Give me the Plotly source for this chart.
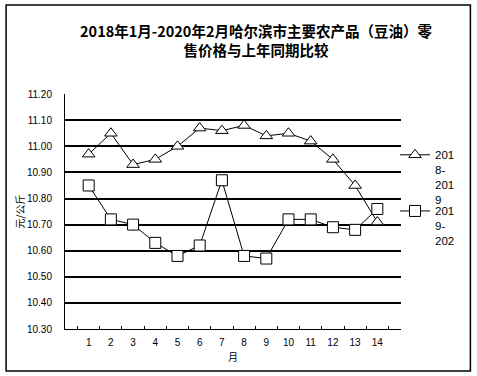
import plotly.graph_objects as go

months = [str(i) for i in range(1, 15)]
series1_name = "201<br>8-<br>201<br>9"
series1 = [10.97, 11.05, 10.93, 10.95, 11.00, 11.07, 11.06, 11.08, 11.04, 11.05, 11.02, 10.95, 10.85, 10.71]
series2_name = "201<br>9-<br>202"
series2 = [10.85, 10.72, 10.70, 10.63, 10.58, 10.62, 10.87, 10.58, 10.57, 10.72, 10.72, 10.69, 10.68, 10.76]
y_ticks = [10.30, 10.40, 10.50, 10.60, 10.70, 10.80, 10.90, 11.00, 11.10, 11.20]
title_text = "<b>2018年1月-2020年2月哈尔滨市主要农产品（豆油）零<br>售价格与上年同期比较</b>"
x_title = "月"
y_title = "元/公斤"

W, H = 477, 376
L, R, T, B = 64.5, 76, 94.3, 47.3
pw, ph = W - L - R, H - T - B

def px_x(x):
    return (x - L) / pw

def px_y(y):
    return (H - B - y) / ph

fig = go.Figure()
fig.add_trace(go.Scatter(
    x=months, y=series1, name=series1_name, mode="lines+markers", legend="legend",
    line=dict(color="black", width=1),
    marker=dict(symbol="triangle-up", size=11, color="white", line=dict(color="black", width=1)),
))
fig.add_trace(go.Scatter(
    x=months, y=series2, name=series2_name, mode="lines+markers", legend="legend2",
    line=dict(color="black", width=1),
    marker=dict(symbol="square", size=11, color="white", line=dict(color="black", width=1)),
))

legend_style = dict(xanchor="left", yanchor="top", valign="top", bgcolor="rgba(0,0,0,0)",
                    font=dict(family="Liberation Sans", size=11.5, color="black"))

fig.update_layout(
    width=W, height=H,
    margin=dict(l=L, r=R, t=T, b=B, autoexpand=False),
    paper_bgcolor="white", plot_bgcolor="white",
    title=dict(text=title_text, x=256 / W, xanchor="center", y=1 - 37 / H, yanchor="top",
               font=dict(family="Noto Sans CJK SC", size=14.5, color="black")),
    font=dict(family="Liberation Sans", color="black"),
    showlegend=True,
    legend=dict(x=px_x(395), y=px_y(141), **legend_style),
    legend2=dict(x=px_x(395), y=px_y(197), **legend_style),
    xaxis=dict(type="category", tickson="boundaries", ticks="inside", ticklen=3,
               tickcolor="black", showline=True, linecolor="black", linewidth=1,
               showgrid=False, zeroline=False, ticklabelstandoff=4,
               tickfont=dict(family="Liberation Sans", size=10, color="black"),
               title=dict(text=x_title, font=dict(family="Noto Sans CJK SC", size=10, color="black"),
                          standoff=6)),
    yaxis=dict(range=[10.30, 11.2005], tickvals=y_ticks, tickformat=".2f",
               showline=True, linecolor="black", linewidth=1, mirror=False,
               showgrid=True, gridcolor="black", gridwidth=1.5, zeroline=False,
               ticks="", ticklabelstandoff=10,
               tickfont=dict(family="Liberation Sans", size=10, color="black"),
               title=dict(text=y_title, font=dict(family="Noto Sans CJK SC", size=10, color="black"),
                          standoff=0)),
)

fig.add_shape(type="rect", xref="paper", yref="paper",
              x0=px_x(5.5), x1=px_x(470.5), y0=px_y(370.5), y1=px_y(5.5),
              line=dict(color="black", width=1.5), fillcolor="rgba(0,0,0,0)", layer="above")

fig.write_html("out.html", config={"displayModeBar": False},
               post_script="document.body.style.margin='0';")
